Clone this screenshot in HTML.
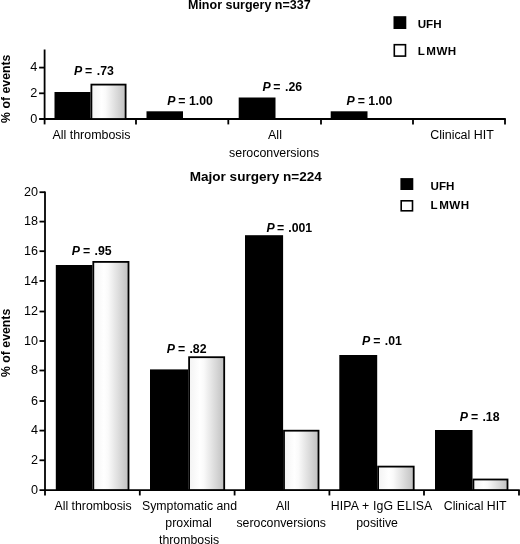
<!DOCTYPE html><html><head><meta charset="utf-8"><style>html,body{margin:0;padding:0;background:#fff}svg{display:block;filter:grayscale(1) blur(0.3px)}text{font-family:"Liberation Sans",sans-serif;fill:#000}</style></head><body>
<svg width="520" height="544" viewBox="0 0 520 544">
<defs><linearGradient id="g" x1="0" x2="1" y1="0" y2="0"><stop offset="0" stop-color="#f3f3f3"/><stop offset="0.3" stop-color="#fff"/><stop offset="0.42" stop-color="#fafafa"/><stop offset="1" stop-color="#c0c0c0"/></linearGradient></defs>
<rect width="520" height="544" fill="#fff"/>
<line x1="44.6" y1="49.5" x2="44.6" y2="124.4" stroke="#000" stroke-width="1.8"/>
<line x1="39.1" y1="119.0" x2="505.8" y2="119.0" stroke="#000" stroke-width="1.8"/>
<line x1="39.1" y1="93.3" x2="44.6" y2="93.3" stroke="#000" stroke-width="1.8"/>
<line x1="39.1" y1="67.6" x2="44.6" y2="67.6" stroke="#000" stroke-width="1.8"/>
<text x="37.2" y="122.6" font-size="12.7" text-anchor="end" font-weight="normal" >0</text>
<text x="37.2" y="96.89999999999999" font-size="12.7" text-anchor="end" font-weight="normal" >2</text>
<text x="37.2" y="71.19999999999999" font-size="12.7" text-anchor="end" font-weight="normal" >4</text>
<line x1="136" y1="119.0" x2="136" y2="124.4" stroke="#000" stroke-width="1.8"/>
<line x1="228.3" y1="119.0" x2="228.3" y2="124.4" stroke="#000" stroke-width="1.8"/>
<line x1="321" y1="119.0" x2="321" y2="124.4" stroke="#000" stroke-width="1.8"/>
<line x1="413" y1="119.0" x2="413" y2="124.4" stroke="#000" stroke-width="1.8"/>
<line x1="505" y1="119.0" x2="505" y2="124.4" stroke="#000" stroke-width="1.8"/>
<rect x="54.5" y="92" width="36.0" height="27.0" fill="#000"/>
<rect x="91.4" y="84.60000000000001" width="34.2" height="34.4" fill="url(#g)" stroke="#000" stroke-width="1.8"/>
<rect x="146.5" y="111.3" width="36.5" height="7.700000000000003" fill="#000"/>
<rect x="238.7" y="97.5" width="36.80000000000001" height="21.5" fill="#000"/>
<rect x="330.7" y="111.3" width="36.80000000000001" height="7.700000000000003" fill="#000"/>
<text x="94" y="75" font-size="12.3" text-anchor="middle" font-weight="bold"><tspan font-style="italic">P</tspan><tspan dx="-0.8"> =</tspan><tspan dx="1.3"> .73</tspan></text>
<text x="190" y="105.2" font-size="12.3" text-anchor="middle" font-weight="bold"><tspan font-style="italic">P</tspan><tspan dx="-0.5"> =</tspan><tspan dx="0.0"> 1.00</tspan></text>
<text x="282.3" y="91" font-size="12.3" text-anchor="middle" font-weight="bold"><tspan font-style="italic">P</tspan><tspan dx="-0.8"> =</tspan><tspan dx="1.3"> .26</tspan></text>
<text x="369.4" y="105.4" font-size="12.3" text-anchor="middle" font-weight="bold"><tspan font-style="italic">P</tspan><tspan dx="-0.5"> =</tspan><tspan dx="0.0"> 1.00</tspan></text>
<text x="91.5" y="138.6" font-size="12.45" text-anchor="middle" font-weight="normal" >All thrombosis</text>
<text x="275" y="138.6" font-size="12.45" text-anchor="middle" font-weight="normal" >All</text>
<text x="274.2" y="156.5" font-size="12.4" text-anchor="middle" font-weight="normal" >seroconversions</text>
<text x="462" y="138.5" font-size="12.45" text-anchor="middle" font-weight="normal" >Clinical HIT</text>
<text x="249.3" y="9.0" font-size="12.5" text-anchor="middle" font-weight="bold" >Minor surgery n=337</text>
<text transform="translate(10,88.75) rotate(-90)" font-size="12.3" text-anchor="middle" font-weight="bold">% of events</text>
<rect x="393.5" y="16.2" width="12.8" height="12.8" fill="#000"/>
<rect x="394.3" y="44.699999999999996" width="11.200000000000001" height="11.4" fill="#fff" stroke="#000" stroke-width="1.6"/>
<text x="417.7" y="27.7" font-size="11.6" font-weight="bold">UFH</text>
<text x="417.7" y="55.4" font-size="11.6" font-weight="bold"><tspan letter-spacing="1.5">L</tspan><tspan letter-spacing="0.45">MWH</tspan></text>
<line x1="45" y1="191.4" x2="45" y2="495.45" stroke="#000" stroke-width="1.8"/>
<line x1="39.5" y1="490.05" x2="519.8" y2="490.05" stroke="#000" stroke-width="1.8"/>
<line x1="39.5" y1="460.3" x2="45" y2="460.3" stroke="#000" stroke-width="1.8"/>
<line x1="39.5" y1="430.6" x2="45" y2="430.6" stroke="#000" stroke-width="1.8"/>
<line x1="39.5" y1="401.0" x2="45" y2="401.0" stroke="#000" stroke-width="1.8"/>
<line x1="39.5" y1="370.5" x2="45" y2="370.5" stroke="#000" stroke-width="1.8"/>
<line x1="39.5" y1="341.0" x2="45" y2="341.0" stroke="#000" stroke-width="1.8"/>
<line x1="39.5" y1="311.5" x2="45" y2="311.5" stroke="#000" stroke-width="1.8"/>
<line x1="39.5" y1="280.9" x2="45" y2="280.9" stroke="#000" stroke-width="1.8"/>
<line x1="39.5" y1="251.2" x2="45" y2="251.2" stroke="#000" stroke-width="1.8"/>
<line x1="39.5" y1="221.6" x2="45" y2="221.6" stroke="#000" stroke-width="1.8"/>
<line x1="39.5" y1="192.2" x2="45" y2="192.2" stroke="#000" stroke-width="1.8"/>
<text x="38.1" y="493.65000000000003" font-size="12.6" text-anchor="end" font-weight="normal" >0</text>
<text x="38.1" y="463.90000000000003" font-size="12.6" text-anchor="end" font-weight="normal" >2</text>
<text x="38.1" y="434.20000000000005" font-size="12.6" text-anchor="end" font-weight="normal" >4</text>
<text x="38.1" y="404.6" font-size="12.6" text-anchor="end" font-weight="normal" >6</text>
<text x="38.1" y="374.1" font-size="12.6" text-anchor="end" font-weight="normal" >8</text>
<text x="38.1" y="344.6" font-size="12.6" text-anchor="end" font-weight="normal" >10</text>
<text x="38.1" y="315.1" font-size="12.6" text-anchor="end" font-weight="normal" >12</text>
<text x="38.1" y="284.5" font-size="12.6" text-anchor="end" font-weight="normal" >14</text>
<text x="38.1" y="254.79999999999998" font-size="12.6" text-anchor="end" font-weight="normal" >16</text>
<text x="38.1" y="225.2" font-size="12.6" text-anchor="end" font-weight="normal" >18</text>
<text x="38.1" y="195.79999999999998" font-size="12.6" text-anchor="end" font-weight="normal" >20</text>
<line x1="139.8" y1="490.05" x2="139.8" y2="495.45" stroke="#000" stroke-width="1.8"/>
<line x1="234.6" y1="490.05" x2="234.6" y2="495.45" stroke="#000" stroke-width="1.8"/>
<line x1="329.4" y1="490.05" x2="329.4" y2="495.45" stroke="#000" stroke-width="1.8"/>
<line x1="424.0" y1="490.05" x2="424.0" y2="495.45" stroke="#000" stroke-width="1.8"/>
<line x1="519" y1="490.05" x2="519" y2="495.45" stroke="#000" stroke-width="1.8"/>
<rect x="55.8" y="265.0" width="36.60000000000001" height="225.05" fill="#000"/>
<rect x="93.30000000000001" y="261.9" width="35.2" height="228.15" fill="url(#g)" stroke="#000" stroke-width="1.8"/>
<rect x="150" y="369.4" width="38.19999999999999" height="120.65000000000003" fill="#000"/>
<rect x="189.1" y="357.2" width="35.10000000000001" height="132.85" fill="url(#g)" stroke="#000" stroke-width="1.8"/>
<rect x="245" y="235.2" width="38.10000000000002" height="254.85000000000002" fill="#000"/>
<rect x="284.0" y="430.7" width="34.49999999999996" height="59.35" fill="url(#g)" stroke="#000" stroke-width="1.8"/>
<rect x="339.3" y="355.0" width="37.89999999999998" height="135.05" fill="#000"/>
<rect x="378.09999999999997" y="466.59999999999997" width="35.60000000000004" height="23.450000000000024" fill="url(#g)" stroke="#000" stroke-width="1.8"/>
<rect x="435" y="430.0" width="37.5" height="60.05000000000001" fill="#000"/>
<rect x="473.4" y="479.5" width="34.09999999999998" height="10.549999999999988" fill="url(#g)" stroke="#000" stroke-width="1.8"/>
<text x="91.75" y="254.5" font-size="12.3" text-anchor="middle" font-weight="bold"><tspan font-style="italic">P</tspan><tspan dx="-0.4"> =</tspan><tspan dx="0.9"> .95</tspan></text>
<text x="186.6" y="353" font-size="12.3" text-anchor="middle" font-weight="bold"><tspan font-style="italic">P</tspan><tspan dx="-0.4"> =</tspan><tspan dx="0.9"> .82</tspan></text>
<text x="289.4" y="231.75" font-size="12.3" text-anchor="middle" font-weight="bold"><tspan font-style="italic">P</tspan><tspan dx="-1.1"> =</tspan><tspan dx="0.5"> .001</tspan></text>
<text x="381.9" y="345" font-size="12.3" text-anchor="middle" font-weight="bold"><tspan font-style="italic">P</tspan><tspan dx="-0.4"> =</tspan><tspan dx="0.9"> .01</tspan></text>
<text x="479.6" y="420.75" font-size="12.3" text-anchor="middle" font-weight="bold"><tspan font-style="italic">P</tspan><tspan dx="-0.4"> =</tspan><tspan dx="0.9"> .18</tspan></text>
<text x="93.1" y="510" font-size="12.3" text-anchor="middle" font-weight="normal" >All thrombosis</text>
<text x="189.5" y="510" font-size="12.3" text-anchor="middle" font-weight="normal" >Symptomatic and</text>
<text x="188.6" y="527" font-size="12.3" text-anchor="middle" font-weight="normal" >proximal</text>
<text x="189.1" y="544" font-size="12.3" text-anchor="middle" font-weight="normal" >thrombosis</text>
<text x="282.9" y="510" font-size="12.3" text-anchor="middle" font-weight="normal" >All</text>
<text x="281.25" y="527" font-size="12.3" text-anchor="middle" font-weight="normal" >seroconversions</text>
<text x="381.5" y="510" font-size="12.3" text-anchor="middle" font-weight="normal" textLength="101.6" lengthAdjust="spacing">HIPA + IgG ELISA</text>
<text x="377.1" y="527" font-size="12.3" text-anchor="middle" font-weight="normal" >positive</text>
<text x="475.2" y="510" font-size="12.3" text-anchor="middle" font-weight="normal" >Clinical HIT</text>
<text x="255.8" y="180.9" font-size="13.55" text-anchor="middle" font-weight="bold" >Major surgery n=224</text>
<text transform="translate(10,342.9) rotate(-90)" font-size="12.3" text-anchor="middle" font-weight="bold">% of events</text>
<rect x="400.4" y="178.1" width="12.9" height="11.9" fill="#000"/>
<rect x="401.2" y="200.8" width="11.3" height="10.0" fill="#fff" stroke="#000" stroke-width="1.6"/>
<text x="430.6" y="189.6" font-size="11.6" font-weight="bold">UFH</text>
<text x="430.6" y="208.8" font-size="11.6" font-weight="bold"><tspan letter-spacing="1.5">L</tspan><tspan letter-spacing="0.45">MWH</tspan></text>
</svg></body></html>
